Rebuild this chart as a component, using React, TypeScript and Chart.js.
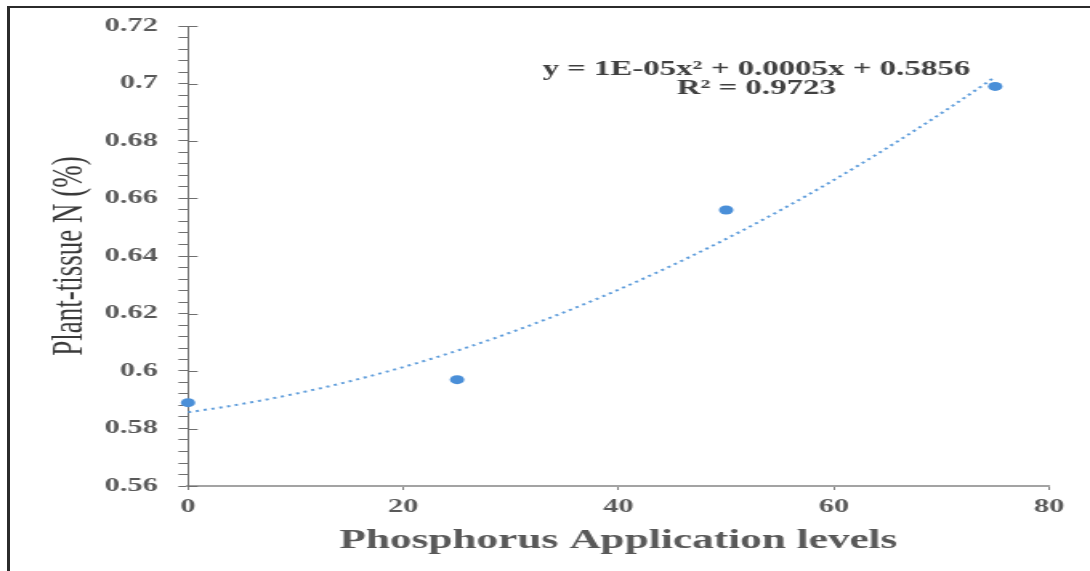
import React, { useEffect, useRef } from 'react';
import { Chart, registerables } from 'chart.js';

Chart.register(...registerables);

// ---- Data ----
const phosphorusLevels: number[] = [0, 25, 50, 75];
const tissueNitrogen: number[] = [0.589, 0.597, 0.656, 0.699];
const yMajorTicks: number[] = [0.56, 0.58, 0.6, 0.62, 0.64, 0.66, 0.68, 0.7, 0.72];
const xTickStep = 20;
const equationLines: string[] = ['y = 1E-05x² + 0.0005x + 0.5856', 'R² = 0.9723'];
const xTitle = 'Phosphorus Application levels';
const yTitle = 'Plant-tissue N (%)';

// ---- Layout (internal canvas coordinates, canvas stretched horizontally like the source image) ----
const CANVAS_W = 680;
const CANVAS_H = 571;
const DISPLAY_W = 1090;
const AREA_LEFT = 117.3;
const AREA_RIGHT = 654.4;
const AREA_TOP = 26;
const AREA_BOTTOM = 486;
const PAD_LEFT = 10;
const PAD_BOTTOM = 5;
const EQ_ANCHOR_X = 52.8; // x-value at which the equation label is centred

// second-order least-squares fit of the data (Excel "Polynomial" trendline)
function polyFit2(xs: number[], ys: number[]): [number, number, number] {
  let s0 = 0, s1 = 0, s2 = 0, s3 = 0, s4 = 0, t0 = 0, t1 = 0, t2 = 0;
  xs.forEach((x, i) => {
    const y = ys[i];
    s0 += 1; s1 += x; s2 += x * x; s3 += x * x * x; s4 += x * x * x * x;
    t0 += y; t1 += x * y; t2 += x * x * y;
  });
  const m = [
    [s0, s1, s2, t0],
    [s1, s2, s3, t1],
    [s2, s3, s4, t2],
  ];
  for (let c = 0; c < 3; c++) {
    for (let r = c + 1; r < 3; r++) {
      const f = m[r][c] / m[c][c];
      for (let k = c; k < 4; k++) m[r][k] -= f * m[c][k];
    }
  }
  const sol = [0, 0, 0];
  for (let r = 2; r >= 0; r--) {
    let v = m[r][3];
    for (let k = r + 1; k < 3; k++) v -= m[r][k] * sol[k];
    sol[r] = v / m[r][r];
  }
  return [sol[0], sol[1], sol[2]];
}

const serif = '"Liberation Serif", "Times New Roman", serif';

export default function App() {
  const canvasRef = useRef<HTMLCanvasElement | null>(null);

  useEffect(() => {
    const canvas = canvasRef.current;
    if (!canvas) return;

    const points = phosphorusLevels.map((x, i) => ({ x, y: tissueNitrogen[i] }));
    const [c0, c1, c2] = polyFit2(phosphorusLevels, tissueNitrogen);
    const xMin = phosphorusLevels[0];
    const xMax = phosphorusLevels[phosphorusLevels.length - 1];
    const trend: { x: number; y: number }[] = [];
    for (let x = xMin; x <= xMax + 1e-9; x += 1) {
      trend.push({ x, y: c0 + c1 * x + c2 * x * x });
    }

    const overlay = {
      id: 'overlay',
      afterDatasetsDraw(chart: any) {
        const { ctx, chartArea, scales } = chart;
        const ys = scales.y;
        const xs = scales.x;
        ctx.save();
        // inner half of the major y ticks
        ctx.strokeStyle = '#6f6f6f';
        ctx.lineWidth = 1;
        yMajorTicks.forEach((v) => {
          const py = Math.round(ys.getPixelForValue(v)) + 0.5;
          ctx.beginPath();
          ctx.moveTo(chartArea.left, py);
          ctx.lineTo(chartArea.left + 6, py);
          ctx.stroke();
        });
        // trendline equation
        ctx.fillStyle = '#404040';
        ctx.font = `bold 20.5px ${serif}`;
        ctx.textAlign = 'center';
        ctx.textBaseline = 'alphabetic';
        const cx = xs.getPixelForValue(EQ_ANCHOR_X);
        ctx.fillText(equationLines[0], cx, chartArea.top + 48.5);
        ctx.fillText(equationLines[1], cx, chartArea.top + 68);
        ctx.restore();
      },
    };

    const chart = new Chart(canvas, {
      type: 'scatter',
      data: {
        datasets: [
          {
            label: 'Plant-tissue N',
            data: points,
            backgroundColor: '#4a8fd8',
            borderColor: '#4a8fd8',
            borderWidth: 0,
            pointRadius: 4.5,
            clip: false,
            order: 0,
          } as any,
          {
            label: 'Poly. trendline',
            data: trend,
            showLine: true,
            pointRadius: 0,
            borderColor: '#5f9ddb',
            borderWidth: 2,
            borderDash: [2, 3],
            fill: false,
            clip: false,
            order: 1,
          } as any,
        ],
      },
      options: {
        responsive: false,
        animation: false,
        devicePixelRatio: 1,
        layout: {
          padding: {
            left: PAD_LEFT,
            right: CANVAS_W - AREA_RIGHT,
            top: AREA_TOP,
            bottom: PAD_BOTTOM,
          },
        },
        plugins: {
          legend: { display: false },
          tooltip: { enabled: false },
        },
        scales: {
          x: {
            type: 'linear',
            min: 0,
            max: 80,
            ticks: {
              stepSize: xTickStep,
              color: '#595959',
              font: { family: serif, size: 19, weight: 'bold' },
              padding: 6,
              callback: (v: any) => String(v),
            },
            grid: { drawOnChartArea: false, tickLength: 4, color: '#7f7f7f' },
            border: { color: '#a3a3a3', width: 2 },
            title: {
              display: true,
              text: xTitle,
              color: '#595959',
              font: { family: serif, size: 27, weight: 'bold' },
              padding: { top: 0, bottom: 9 },
            },
            afterFit: (s: any) => {
              s.height = CANVAS_H - AREA_BOTTOM - PAD_BOTTOM;
            },
          },
          y: {
            type: 'linear',
            min: yMajorTicks[0],
            max: yMajorTicks[yMajorTicks.length - 1],
            ticks: {
              stepSize: 0.004,
              autoSkip: false,
              color: '#595959',
              font: { family: serif, size: 19, weight: 'bold' },
              padding: 12.7,
              callback: (v: any) => {
                const n = Number(v);
                const isMajor = yMajorTicks.some((m) => Math.abs(m - n) < 1e-6);
                return isMajor ? String(parseFloat(n.toFixed(2))) : '';
              },
            },
            grid: { drawOnChartArea: false, tickLength: 6, color: '#6f6f6f' },
            border: { color: '#6f6f6f', width: 1 },
            title: {
              display: true,
              text: yTitle,
              color: '#3a3a3a',
              font: { family: serif, size: 27 },
              padding: { top: 17.5, bottom: 0 },
            },
            afterFit: (s: any) => {
              s.width = AREA_LEFT - PAD_LEFT;
            },
          },
        },
      } as any,
      plugins: [overlay],
    });

    return () => chart.destroy();
  }, []);

  return (
    <div
      style={{
        position: 'fixed',
        left: 0,
        top: 0,
        width: DISPLAY_W,
        height: CANVAS_H,
        background: '#ffffff',
        overflow: 'hidden',
      }}
    >
      <canvas
        ref={canvasRef}
        width={CANVAS_W}
        height={CANVAS_H}
        style={{ width: `${DISPLAY_W}px`, height: `${CANVAS_H}px`, display: 'block' }}
      />
      <div
        style={{
          position: 'absolute',
          left: 7,
          top: 6,
          right: -20,
          bottom: -20,
          borderLeft: '3px solid #2b2b2b',
          borderTop: '2px solid #2b2b2b',
          pointerEvents: 'none',
        }}
      />
    </div>
  );
}
